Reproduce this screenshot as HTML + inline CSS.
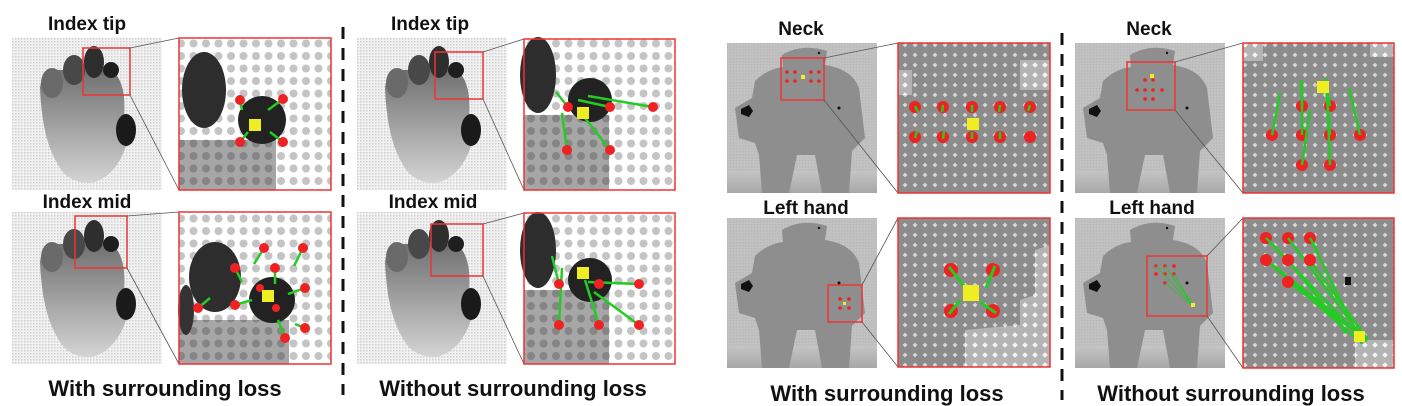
<!DOCTYPE html>
<html><head><meta charset="utf-8"><style>
html,body{margin:0;padding:0;background:#fff}
svg{display:block}
text{font-family:"Liberation Sans",sans-serif;font-weight:bold;fill:#111}
</style></head><body>
<svg width="1402" height="406" viewBox="0 0 1402 406">
<defs>
<pattern id="fine" width="3" height="3" patternUnits="userSpaceOnUse"><rect width="3" height="3" fill="#f2f2f2"/><rect width="1.5" height="1.5" fill="#cfcfcf"/></pattern>
<pattern id="dotsW" width="12.5" height="12.5" patternUnits="userSpaceOnUse"><circle cx="6" cy="6" r="4" fill="#c4c4c4"/></pattern>
<pattern id="dotsD" width="12.5" height="12.5" patternUnits="userSpaceOnUse"><circle cx="6" cy="6" r="4" fill="#000" fill-opacity="0.2"/></pattern>
<pattern id="dia" width="10" height="10" patternUnits="userSpaceOnUse"><rect width="10" height="10" fill="#8c8c8c"/><path d="M5 2.6L7.4 5 5 7.4 2.6 5z" fill="#d8d8d8"/></pattern>
<pattern id="diaL" width="10" height="10" patternUnits="userSpaceOnUse"><rect width="10" height="10" fill="#b4b4b4"/><path d="M5 2.2L7.8 5 5 7.8 2.2 5z" fill="#f4f4f4"/></pattern>
<pattern id="bodyfine" width="3" height="3" patternUnits="userSpaceOnUse"><rect width="3" height="3" fill="#c2c2c2"/><rect width="1.5" height="1.5" fill="#b8b8b8"/></pattern>
<linearGradient id="palm" x1="0" y1="0" x2="0" y2="1"><stop offset="0" stop-color="#707070"/><stop offset="1" stop-color="#d4d4d4"/></linearGradient>
<linearGradient id="floor" x1="0" y1="0" x2="0" y2="1"><stop offset="0" stop-color="#c4c4c4"/><stop offset="1" stop-color="#a8a8a8"/></linearGradient>
<g id="hand">
<rect width="150" height="152" fill="url(#fine)"/>
<path d="M28 50 Q30 32 45 32 L100 32 Q115 45 112 80 L115 105 Q105 138 80 145 Q55 146 45 125 Q30 100 28 50Z" fill="url(#palm)"/>
<ellipse cx="40" cy="45" rx="11" ry="15" fill="#6a6a6a"/>
<ellipse cx="62" cy="32" rx="11" ry="15" fill="#484848"/>
<ellipse cx="82" cy="24" rx="10" ry="16" fill="#2e2e2e"/>
<circle cx="99" cy="32" r="8" fill="#1e1e1e"/>
<ellipse cx="114" cy="92" rx="10" ry="16" fill="#1a1a1a"/>
</g>
<g id="body">
<rect width="150" height="150" fill="url(#bodyfine)"/>
<rect y="128" width="150" height="22" fill="url(#floor)"/>
<path d="M55 12 Q75 0 100 8 L98 22 Q125 26 132 45 L138 95 L125 108 L122 150 L95 150 L88 112 L70 112 L62 150 L35 150 L32 112 L28 100 L12 95 L8 65 L25 55 L28 38 Q40 26 56 24Z" fill="#8e8e8e"/>
<path d="M14 66 l8 -4 l4 6 l-4 6 l-8 -3z" fill="#111"/>
<circle cx="92" cy="10" r="1.2" fill="#111"/>
<circle cx="112" cy="65" r="1.5" fill="#111"/>
</g>
</defs>

<!-- Panel 1 -->
<g>
<text x="87" y="30" font-size="19" text-anchor="middle">Index tip</text>
<use href="#hand" x="12" y="38"/>
<rect x="83" y="48" width="47" height="47" fill="none" stroke="#e33" stroke-width="1.5"/>
<g stroke="#555" stroke-width="0.8"><line x1="130" y1="48" x2="179" y2="38"/><line x1="130" y1="95" x2="179" y2="190"/></g>
<g>
<rect x="179" y="38" width="152" height="152" fill="#fff"/><rect x="179" y="38" width="152" height="152" fill="url(#dotsW)"/>
<rect x="179" y="140" width="97" height="50" fill="#a6a6a6"/><rect x="179" y="140" width="97" height="50" fill="url(#dotsD)"/>
<ellipse cx="204" cy="90" rx="22" ry="38" fill="#2d2d2d"/>
<circle cx="262" cy="120" r="24" fill="#222"/>
<g stroke="#2c2" stroke-width="2.5"><line x1="240" y1="100" x2="242" y2="110"/><line x1="283" y1="99" x2="268" y2="110"/><line x1="240" y1="142" x2="248" y2="132"/><line x1="283" y1="142" x2="270" y2="132"/></g>
<g fill="#e22"><circle cx="240" cy="100" r="5"/><circle cx="283" cy="99" r="5"/><circle cx="240" cy="142" r="5"/><circle cx="283" cy="142" r="5"/></g>
<rect x="249" y="119" width="12" height="12" fill="#ee2"/>
<rect x="179" y="38" width="152" height="152" fill="none" stroke="#e33" stroke-width="1.5"/>
</g>
<text x="87" y="208" font-size="19" text-anchor="middle">Index mid</text>
<use href="#hand" x="12" y="212"/>
<rect x="75" y="216" width="52" height="52" fill="none" stroke="#e33" stroke-width="1.5"/>
<g stroke="#555" stroke-width="0.8"><line x1="127" y1="216" x2="179" y2="212"/><line x1="127" y1="268" x2="179" y2="364"/></g>
<g>
<rect x="179" y="212" width="152" height="152" fill="#fff"/><rect x="179" y="212" width="152" height="152" fill="url(#dotsW)"/>
<rect x="179" y="320" width="110" height="44" fill="#a6a6a6"/><rect x="179" y="320" width="110" height="44" fill="url(#dotsD)"/>
<ellipse cx="215" cy="277" rx="26" ry="35" fill="#2d2d2d"/>
<ellipse cx="186" cy="310" rx="8" ry="25" fill="#333"/>
<circle cx="272" cy="300" r="23" fill="#222"/>
<g stroke="#2c2" stroke-width="2.5"><line x1="198" y1="308" x2="210" y2="298"/><line x1="235" y1="268" x2="242" y2="282"/><line x1="264" y1="248" x2="254" y2="264"/><line x1="303" y1="248" x2="294" y2="266"/><line x1="275" y1="268" x2="275" y2="284"/><line x1="305" y1="288" x2="288" y2="294"/><line x1="235" y1="305" x2="252" y2="300"/><line x1="285" y1="338" x2="278" y2="320"/><line x1="305" y1="328" x2="295" y2="324"/></g>
<g fill="#e22"><circle cx="198" cy="308" r="5"/><circle cx="235" cy="268" r="5"/><circle cx="264" cy="248" r="5"/><circle cx="303" cy="248" r="5"/><circle cx="275" cy="268" r="5"/><circle cx="305" cy="288" r="5"/><circle cx="235" cy="305" r="5"/><circle cx="285" cy="338" r="5"/><circle cx="305" cy="328" r="5"/><circle cx="260" cy="288" r="4"/><circle cx="276" cy="308" r="4"/></g>
<rect x="262" y="290" width="12" height="12" fill="#ee2"/>
<rect x="179" y="212" width="152" height="152" fill="none" stroke="#e33" stroke-width="1.5"/>
</g>
<text x="165" y="396" font-size="22" text-anchor="middle">With surrounding loss</text>
</g>

<line x1="343" y1="27" x2="343" y2="395" stroke="#111" stroke-width="3" stroke-dasharray="12,9"/>

<!-- Panel 2 -->
<g>
<text x="430" y="30" font-size="19" text-anchor="middle">Index tip</text>
<use href="#hand" x="357" y="38"/>
<rect x="435" y="52" width="48" height="47" fill="none" stroke="#e33" stroke-width="1.5"/>
<g stroke="#555" stroke-width="0.8"><line x1="483" y1="52" x2="524" y2="39"/><line x1="483" y1="99" x2="524" y2="190"/></g>
<rect x="524" y="39" width="151" height="151" fill="#fff"/><rect x="524" y="39" width="151" height="151" fill="url(#dotsW)"/>
<rect x="524" y="115" width="85" height="75" fill="#a6a6a6"/><rect x="524" y="115" width="85" height="75" fill="url(#dotsD)"/>
<ellipse cx="538" cy="75" rx="18" ry="38" fill="#2d2d2d"/>
<circle cx="590" cy="100" r="22" fill="#222"/>
<g stroke="#2c2" stroke-width="2.5"><line x1="568" y1="107" x2="556" y2="92"/><line x1="610" y1="107" x2="578" y2="100"/><line x1="653" y1="107" x2="588" y2="96"/><line x1="567" y1="150" x2="562" y2="113"/><line x1="610" y1="150" x2="585" y2="118"/></g>
<g fill="#e22"><circle cx="568" cy="107" r="5"/><circle cx="610" cy="107" r="5"/><circle cx="653" cy="107" r="5"/><circle cx="567" cy="150" r="5"/><circle cx="610" cy="150" r="5"/></g>
<rect x="577" y="107" width="12" height="12" fill="#ee2"/>
<rect x="524" y="39" width="151" height="151" fill="none" stroke="#e33" stroke-width="1.5"/>

<text x="433" y="208" font-size="19" text-anchor="middle">Index mid</text>
<use href="#hand" x="357" y="212"/>
<rect x="431" y="224" width="52" height="52" fill="none" stroke="#e33" stroke-width="1.5"/>
<g stroke="#555" stroke-width="0.8"><line x1="483" y1="224" x2="524" y2="213"/><line x1="483" y1="276" x2="524" y2="364"/></g>
<rect x="524" y="213" width="151" height="151" fill="#fff"/><rect x="524" y="213" width="151" height="151" fill="url(#dotsW)"/>
<rect x="524" y="290" width="85" height="74" fill="#a6a6a6"/><rect x="524" y="290" width="85" height="74" fill="url(#dotsD)"/>
<ellipse cx="538" cy="250" rx="18" ry="38" fill="#2d2d2d"/>
<circle cx="590" cy="280" r="22" fill="#222"/>
<g stroke="#2c2" stroke-width="2.5"><line x1="559" y1="325" x2="562" y2="268"/><line x1="559" y1="284" x2="552" y2="256"/><line x1="599" y1="325" x2="585" y2="280"/><line x1="639" y1="284" x2="588" y2="282"/><line x1="639" y1="325" x2="594" y2="292"/></g>
<g fill="#e22"><circle cx="559" cy="284" r="5"/><circle cx="599" cy="284" r="5"/><circle cx="639" cy="284" r="5"/><circle cx="559" cy="325" r="5"/><circle cx="599" cy="325" r="5"/><circle cx="639" cy="325" r="5"/></g>
<rect x="577" y="267" width="12" height="12" fill="#ee2"/>
<rect x="524" y="213" width="151" height="151" fill="none" stroke="#e33" stroke-width="1.5"/>
<text x="513" y="396" font-size="22" text-anchor="middle">Without surrounding loss</text>
</g>

<!-- Panel 3 -->
<g>
<text x="801" y="35" font-size="19" text-anchor="middle">Neck</text>
<use href="#body" x="727" y="43"/>
<rect x="781" y="58" width="43" height="42" fill="none" stroke="#e33" stroke-width="1.5"/>
<g fill="#e22"><circle cx="787" cy="72" r="1.8"/><circle cx="795" cy="72" r="1.8"/><circle cx="811" cy="72" r="1.8"/><circle cx="819" cy="72" r="1.8"/><circle cx="787" cy="81" r="1.8"/><circle cx="795" cy="81" r="1.8"/><circle cx="811" cy="81" r="1.8"/><circle cx="819" cy="81" r="1.8"/></g>
<rect x="801" y="75" width="4" height="4" fill="#ee2"/>
<g stroke="#555" stroke-width="0.8"><line x1="824" y1="58" x2="898" y2="43"/><line x1="824" y1="100" x2="898" y2="193"/></g>
<rect x="898" y="43" width="152" height="150" fill="url(#dia)"/>
<rect x="898" y="70" width="14" height="25" fill="url(#diaL)"/><rect x="1020" y="60" width="30" height="30" fill="url(#diaL)"/>
<g fill="#e22"><circle cx="915" cy="107" r="6"/><circle cx="943" cy="107" r="6"/><circle cx="972" cy="107" r="6"/><circle cx="1000" cy="107" r="6"/><circle cx="1030" cy="107" r="6"/><circle cx="915" cy="137" r="6"/><circle cx="943" cy="137" r="6"/><circle cx="972" cy="137" r="6"/><circle cx="1000" cy="137" r="6"/><circle cx="1030" cy="137" r="6"/></g>
<g stroke="#2c2" stroke-width="2.5"><line x1="915" y1="106" x2="918" y2="112"/><line x1="943" y1="105" x2="942" y2="112"/><line x1="972" y1="105" x2="972" y2="112"/><line x1="1000" y1="105" x2="999" y2="112"/><line x1="1030" y1="105" x2="1028" y2="111"/><line x1="915" y1="138" x2="917" y2="131"/><line x1="943" y1="139" x2="944" y2="131"/><line x1="972" y1="139" x2="972" y2="132"/><line x1="1000" y1="139" x2="1000" y2="132"/></g>
<rect x="967" y="118" width="12" height="12" fill="#ee2"/>
<rect x="898" y="43" width="152" height="150" fill="none" stroke="#e33" stroke-width="1.5"/>

<text x="806" y="214" font-size="19" text-anchor="middle">Left hand</text>
<use href="#body" x="727" y="218"/>
<rect x="828" y="285" width="34" height="37" fill="none" stroke="#e33" stroke-width="1.5"/>
<g fill="#e22"><circle cx="840" cy="299" r="1.8"/><circle cx="849" cy="299" r="1.8"/><circle cx="840" cy="308" r="1.8"/><circle cx="849" cy="308" r="1.8"/></g>
<rect x="843" y="302" width="3" height="3" fill="#ee2"/>
<g stroke="#555" stroke-width="0.8"><line x1="862" y1="285" x2="898" y2="218"/><line x1="862" y1="322" x2="898" y2="367"/></g>
<rect x="898" y="218" width="152" height="149" fill="url(#dia)"/>
<path d="M965 330 L1020 325 L1020 300 L1035 295 L1035 250 L1050 245 L1050 367 L965 367Z" fill="url(#diaL)"/>
<g fill="#e22"><circle cx="951" cy="270" r="7"/><circle cx="993" cy="270" r="7"/><circle cx="951" cy="311" r="7"/><circle cx="993" cy="311" r="7"/></g>
<g stroke="#2c2" stroke-width="3"><line x1="949" y1="267" x2="964" y2="286"/><line x1="995" y1="266" x2="986" y2="288"/><line x1="949" y1="314" x2="960" y2="300"/><line x1="996" y1="313" x2="980" y2="302"/></g>
<rect x="963" y="285" width="16" height="16" fill="#ee2"/>
<rect x="898" y="218" width="152" height="149" fill="none" stroke="#e33" stroke-width="1.5"/>
<text x="887" y="401" font-size="22" text-anchor="middle">With surrounding loss</text>
</g>

<line x1="1062" y1="33" x2="1062" y2="400" stroke="#111" stroke-width="3" stroke-dasharray="12,9"/>

<!-- Panel 4 -->
<g>
<text x="1149" y="35" font-size="19" text-anchor="middle">Neck</text>
<use href="#body" x="1075" y="43"/>
<rect x="1127" y="62" width="48" height="48" fill="none" stroke="#e33" stroke-width="1.5"/>
<g fill="#e22"><circle cx="1137" cy="90" r="1.8"/><circle cx="1145" cy="80" r="1.8"/><circle cx="1153" cy="80" r="1.8"/><circle cx="1145" cy="90" r="1.8"/><circle cx="1153" cy="90" r="1.8"/><circle cx="1162" cy="90" r="1.8"/><circle cx="1145" cy="99" r="1.8"/><circle cx="1153" cy="99" r="1.8"/></g>
<rect x="1150" y="74" width="4" height="4" fill="#ee2"/>
<g stroke="#555" stroke-width="0.8"><line x1="1175" y1="62" x2="1243" y2="43"/><line x1="1175" y1="110" x2="1243" y2="193"/></g>
<rect x="1243" y="43" width="151" height="150" fill="url(#dia)"/>
<rect x="1243" y="43" width="20" height="18" fill="url(#diaL)"/><rect x="1370" y="43" width="24" height="14" fill="url(#diaL)"/>
<g fill="#e22"><circle cx="1272" cy="135" r="6"/><circle cx="1302" cy="106" r="6"/><circle cx="1330" cy="106" r="6"/><circle cx="1302" cy="135" r="6"/><circle cx="1330" cy="135" r="6"/><circle cx="1360" cy="135" r="6"/><circle cx="1302" cy="165" r="6"/><circle cx="1330" cy="165" r="6"/></g>
<g stroke="#2c2" stroke-width="2.5"><line x1="1272" y1="135" x2="1280" y2="93"/><line x1="1302" y1="106" x2="1301" y2="80"/><line x1="1302" y1="135" x2="1302" y2="84"/><line x1="1302" y1="165" x2="1310" y2="110"/><line x1="1330" y1="106" x2="1325" y2="78"/><line x1="1330" y1="135" x2="1326" y2="84"/><line x1="1330" y1="165" x2="1327" y2="92"/><line x1="1360" y1="135" x2="1349" y2="88"/></g>
<rect x="1317" y="81" width="12" height="12" fill="#ee2"/>
<rect x="1243" y="43" width="151" height="150" fill="none" stroke="#e33" stroke-width="1.5"/>

<text x="1152" y="214" font-size="19" text-anchor="middle">Left hand</text>
<use href="#body" x="1075" y="218"/>
<rect x="1147" y="256" width="60" height="60" fill="none" stroke="#e33" stroke-width="1.5"/>
<g fill="#e22"><circle cx="1156" cy="266" r="1.8"/><circle cx="1165" cy="266" r="1.8"/><circle cx="1174" cy="266" r="1.8"/><circle cx="1156" cy="274" r="1.8"/><circle cx="1165" cy="274" r="1.8"/><circle cx="1174" cy="274" r="1.8"/><circle cx="1165" cy="283" r="1.8"/></g>
<g stroke="#2c2" stroke-width="0.8"><line x1="1156" y1="266" x2="1193" y2="306"/><line x1="1165" y1="266" x2="1193" y2="306"/><line x1="1174" y1="274" x2="1193" y2="306"/><line x1="1165" y1="283" x2="1193" y2="306"/></g>
<rect x="1191" y="303" width="4" height="4" fill="#ee2"/>
<g stroke="#555" stroke-width="0.8"><line x1="1207" y1="256" x2="1243" y2="218"/><line x1="1207" y1="316" x2="1243" y2="368"/></g>
<rect x="1243" y="218" width="151" height="150" fill="url(#dia)"/>
<rect x="1355" y="340" width="39" height="28" fill="url(#diaL)"/>
<rect x="1345" y="277" width="6" height="8" fill="#111"/>
<g stroke="#2c2" stroke-width="2.5"><line x1="1266" y1="238" x2="1360" y2="337"/><line x1="1288" y1="238" x2="1366" y2="342"/><line x1="1310" y1="238" x2="1362" y2="344"/><line x1="1266" y1="260" x2="1358" y2="340"/><line x1="1288" y1="260" x2="1346" y2="333"/><line x1="1310" y1="260" x2="1368" y2="340"/><line x1="1288" y1="282" x2="1356" y2="332"/><line x1="1266" y1="260" x2="1340" y2="318"/></g>
<g fill="#e22"><circle cx="1266" cy="238" r="6"/><circle cx="1288" cy="238" r="6"/><circle cx="1310" cy="238" r="6"/><circle cx="1266" cy="260" r="6"/><circle cx="1288" cy="260" r="6"/><circle cx="1310" cy="260" r="6"/><circle cx="1288" cy="282" r="6"/></g>
<g stroke="#2c2" stroke-width="2.5"><line x1="1266" y1="238" x2="1280" y2="252"/><line x1="1288" y1="238" x2="1298" y2="251"/><line x1="1310" y1="238" x2="1318" y2="252"/></g>
<rect x="1354" y="331" width="11" height="11" fill="#ee2"/>
<rect x="1243" y="218" width="151" height="150" fill="none" stroke="#e33" stroke-width="1.5"/>
<text x="1231" y="401" font-size="22" text-anchor="middle">Without surrounding loss</text>
</g>
</svg>
</body></html>
